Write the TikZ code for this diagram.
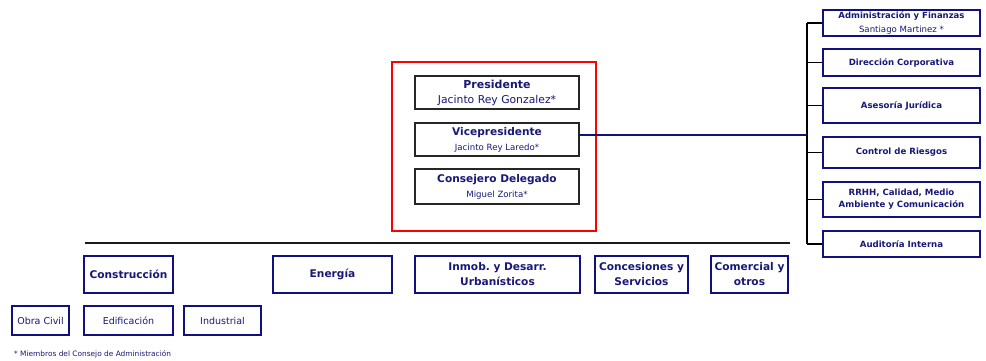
\documentclass[tikz,border=0pt]{standalone}
\usepackage{fontspec}
\setmainfont{DejaVu Sans}
\frenchspacing
\definecolor{navy}{RGB}{16,16,128}
\definecolor{navytxt}{RGB}{24,24,120}
\begin{document}
\begin{tikzpicture}[x=1pt,y=-1pt,
  box/.style={draw=navy,line width=1.9pt,fill=white,inner sep=0pt,align=center,text=navytxt,font=\bfseries\fontsize{10.6}{15}\selectfont},
  bbox/.style={box,draw=black!85},
  rbox/.style={box,minimum width=157pt,font=\bfseries\fontsize{8.6}{12}\selectfont},
  sm/.style={font=\fontsize{9.5}{11}\selectfont},
  link/.style={line width=1.9pt,draw=black}]
\useasboundingbox (0,0) rectangle (986,361);
% red frame
\node[draw=red,line width=1.4pt,minimum width=204pt,minimum height=169pt,inner sep=0pt] (frame) at (494,146.5) {};
% central boxes
\node[bbox,minimum width=164pt,minimum height=33pt] (pres) at (497,92.5)
  {\fontsize{11}{17}\selectfont Presidente\\{\mdseries\fontsize{10.8}{13}\selectfont Jacinto Rey Gonzalez*}};
\node[bbox,minimum width=164pt,minimum height=33pt] (vice) at (497,139.5)
  {\fontsize{10.6}{16}\selectfont Vicepresidente\\{\mdseries\fontsize{8.6}{10}\selectfont Jacinto Rey Laredo*}};
\node[bbox,minimum width=164pt,minimum height=35pt] (cons) at (497,186.5)
  {\fontsize{10.6}{15.5}\selectfont Consejero Delegado\\{\mdseries\fontsize{8.6}{10}\selectfont Miguel Zorita*}};
% right column
\node[rbox,minimum height=26pt,font=\bfseries\fontsize{8.5}{13.5}\selectfont] (adm) at (901.5,23) {Administración y Finanzas\\{\mdseries\fontsize{8.6}{10}\selectfont Santiago Martinez *}};
\node[rbox,minimum height=27pt] (dir) at (901.5,62.5) {Dirección Corporativa};
\node[rbox,minimum height=35pt] (ase) at (901.5,105.5) {Asesoría Jurídica};
\node[rbox,minimum height=31pt] (ctl) at (901.5,152.5) {Control de Riesgos};
\node[rbox,minimum height=35pt] (rrh) at (901.5,199.5) {RRHH, Calidad, Medio\\Ambiente y Comunicación};
\node[rbox,minimum height=26pt] (aud) at (901.5,244) {Auditoría Interna};
% spine
\coordinate (sTop) at (807,23);
\coordinate (sBot) at (807,244);
\draw[link] (sTop) -- (sBot);
\foreach \n in {adm,dir,ase,ctl,rrh,aud} \draw[link] (\n.west) -- (\n.west -| sTop);
\draw[draw=navy,line width=1.9pt] ([yshift=4.5pt]vice.east) -- ([yshift=4.5pt]vice.east -| sTop);
% horizontal bar
\coordinate (h1) at (85,243);
\coordinate (h2) at (790,243);
\draw[line width=2.4pt,draw=black!90] (h1) -- (h2);
% business areas
\node[box,minimum width=89pt,minimum height=37pt] (con) at (128.5,274.5) {Construcción};
\node[box,minimum width=119pt,minimum height=37pt] (ene) at (332.5,274.5) {Energía};
\node[box,minimum width=165pt,minimum height=37pt] (inm) at (497.5,274.5) {Inmob. y Desarr.\\Urbanísticos};
\node[box,minimum width=93pt,minimum height=37pt] (cnc) at (641.5,274.5) {Concesiones y\\Servicios};
\node[box,minimum width=77pt,minimum height=37pt] (com) at (749.5,274.5) {Comercial y\\otros};
% construction sub-areas
\node[box,sm,minimum width=57pt,minimum height=29pt] (obr) at (40.5,320.5) {Obra Civil};
\node[box,sm,minimum width=89pt,minimum height=29pt] (edi) at (128.5,320.5) {Edificación};
\node[box,sm,minimum width=77pt,minimum height=29pt] (ind) at (222.5,320.5) {Industrial};
% footnote
\node[anchor=west,inner sep=0pt,text=navytxt,font=\fontsize{7.4}{8}\selectfont] (fn) at (14,354) {* Miembros del Consejo de Administración};
\end{tikzpicture}
\end{document}
